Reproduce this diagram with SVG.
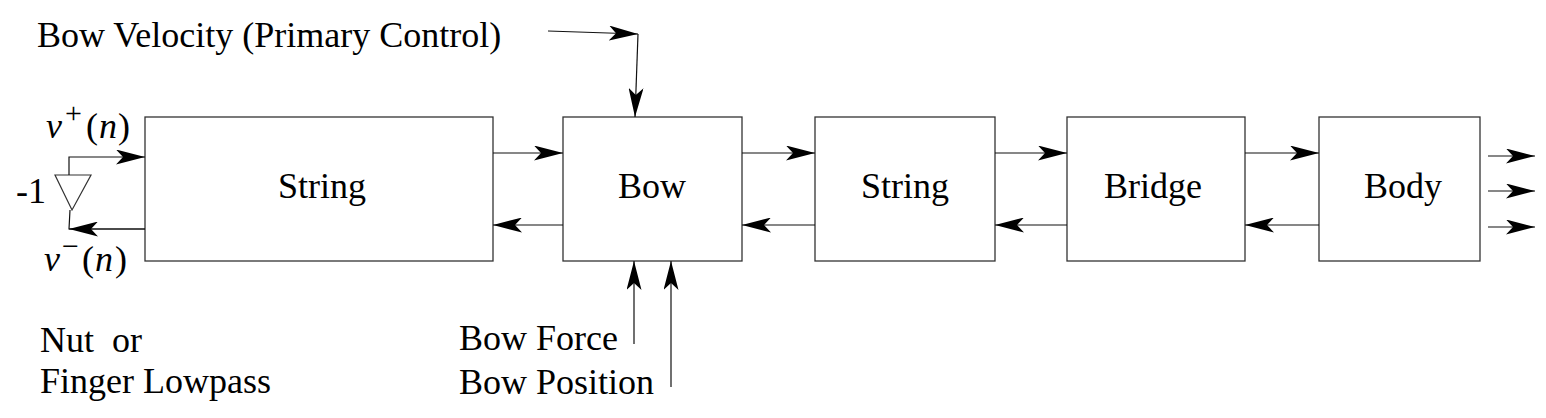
<svg xmlns="http://www.w3.org/2000/svg" width="1546" height="418" viewBox="0 0 1546 418">
<style>
text{font-family:"Liberation Serif","Times New Roman",serif;font-size:36px;fill:#000}
.box{fill:#fff;stroke:#333;stroke-width:1.3}
.c{fill:none;stroke:#111;stroke-width:1.2}
.lbl{text-anchor:middle}
</style>
<defs>
<marker id="ah" viewBox="0 0 29 15" refX="29" refY="7.5" markerWidth="29" markerHeight="15" markerUnits="userSpaceOnUse" orient="auto">
<path d="M0,0 L29,7.5 L0,15 L7,7.5 Z" fill="#000"/>
</marker>
</defs>
<rect width="1546" height="418" fill="#fff"/>
<g id="string1"><rect class="box" x="145" y="117" width="348" height="144"/><text class="lbl" x="322" y="198">String</text></g>
<g id="bow"><rect class="box" x="563" y="117" width="179" height="144"/><text class="lbl" x="652" y="198">Bow</text></g>
<g id="string2"><rect class="box" x="815" y="117" width="180" height="144"/><text class="lbl" x="905" y="198">String</text></g>
<g id="bridge"><rect class="box" x="1067" y="117" width="178" height="144"/><text class="lbl" x="1153" y="198">Bridge</text></g>
<g id="body"><rect class="box" x="1319" y="117" width="161" height="144"/><text class="lbl" x="1403" y="198">Body</text></g>
<g id="inverter"><polygon points="55,175 91,175 72,210" fill="#fff" stroke="#333" stroke-width="1.2"/><text x="16" y="203">-1</text></g>
<g id="labels">
<text x="37" y="47">Bow Velocity (Primary Control)</text>
<text x="459" y="350">Bow Force</text>
<text x="459" y="394">Bow Position</text>
<text x="40" y="352" xml:space="preserve">Nut  or</text>
<text x="40" y="393">Finger Lowpass</text>
<text x="46" y="138" font-size="38"><tspan font-style="italic">v</tspan><tspan x="65" dy="-15" font-size="30">+</tspan><tspan x="86" dy="15">(</tspan><tspan x="99" font-style="italic">n</tspan><tspan x="118">)</tspan></text>
<text x="44" y="271" font-size="38"><tspan font-style="italic">v</tspan><tspan x="62" dy="-15" font-size="30">−</tspan><tspan x="82" dy="15">(</tspan><tspan x="95" font-style="italic">n</tspan><tspan x="115">)</tspan></text>
</g>
<g id="connectors">
<polyline class="c" points="69,175 69,157 145,157" marker-end="url(#ah)"/>
<polyline class="c" points="70,210 69,229 145,229" />
<line class="c" x1="145" y1="229" x2="69" y2="229" marker-end="url(#ah)"/>
<line class="c" x1="493" y1="153" x2="563" y2="153" marker-end="url(#ah)"/>
<line class="c" x1="563" y1="225" x2="493" y2="225" marker-end="url(#ah)"/>
<line class="c" x1="742" y1="153" x2="815" y2="153" marker-end="url(#ah)"/>
<line class="c" x1="815" y1="225" x2="742" y2="225" marker-end="url(#ah)"/>
<line class="c" x1="995" y1="153" x2="1067" y2="153" marker-end="url(#ah)"/>
<line class="c" x1="1067" y1="225" x2="995" y2="225" marker-end="url(#ah)"/>
<line class="c" x1="1245" y1="153" x2="1319" y2="153" marker-end="url(#ah)"/>
<line class="c" x1="1319" y1="225" x2="1245" y2="225" marker-end="url(#ah)"/>
<line class="c" x1="1488" y1="156" x2="1535" y2="156" marker-end="url(#ah)"/>
<line class="c" x1="1488" y1="191" x2="1535" y2="191" marker-end="url(#ah)"/>
<line class="c" x1="1488" y1="227" x2="1535" y2="227" marker-end="url(#ah)"/>
<line class="c" x1="548" y1="31" x2="638" y2="34" marker-end="url(#ah)"/>
<line class="c" x1="638" y1="34" x2="635" y2="117" marker-end="url(#ah)"/>
<line class="c" x1="634" y1="344" x2="634" y2="261" marker-end="url(#ah)"/>
<line class="c" x1="671" y1="387" x2="671" y2="261" marker-end="url(#ah)"/>
</g>
</svg>
